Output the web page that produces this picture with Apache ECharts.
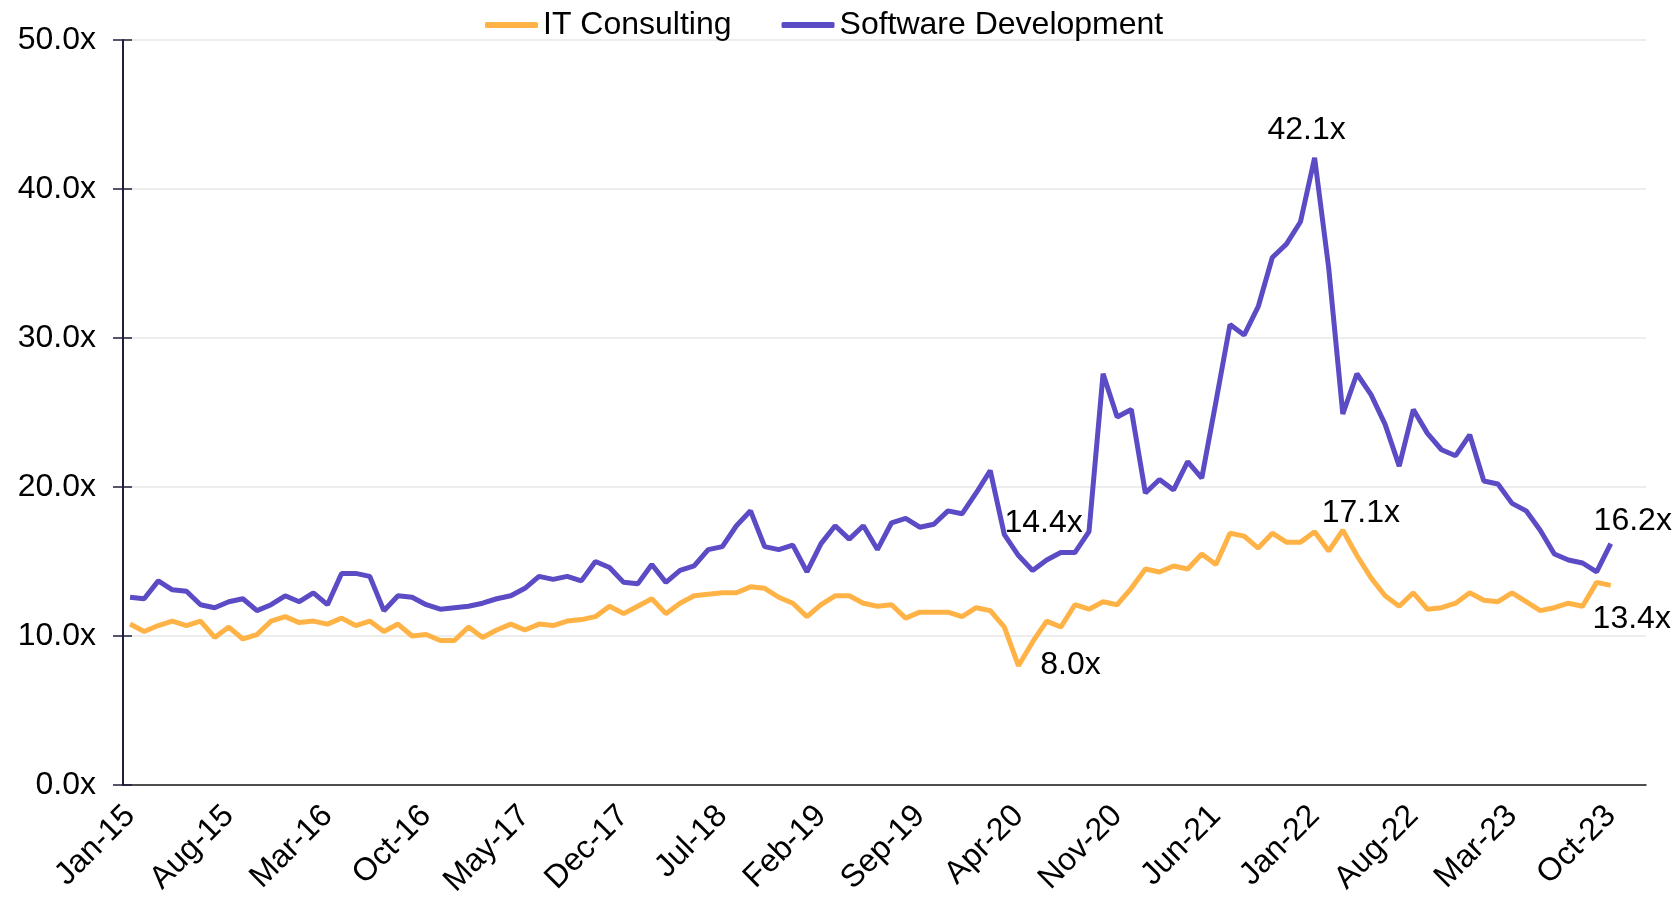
<!DOCTYPE html>
<html>
<head>
<meta charset="utf-8">
<title>IT Consulting vs Software Development multiples</title>
<script src="https://cdn.jsdelivr.net/npm/echarts@6/dist/echarts.min.js"></script>
<style>
html, body { margin: 0; padding: 0; background: #fff; }
#chart { width: 1677px; height: 904px; }
</style>
</head>
<body>
<div id="chart"></div>
<script>
// monthly categories Jan-15 .. Dec-23 (last two months have no data)
const monthNames = ['Jan', 'Feb', 'Mar', 'Apr', 'May', 'Jun', 'Jul', 'Aug', 'Sep', 'Oct', 'Nov', 'Dec']
const years = ['15', '16', '17', '18', '19', '20', '21', '22', '23']
const categories = []
years.forEach(y => monthNames.forEach(m => categories.push(m + '-' + y)))

const seriesNames = ['IT Consulting', 'Software Development']

const itConsulting = [
    10.8, 10.3, 10.7, 11.0, 10.7, 11.0, 9.9, 10.6, 9.8, 10.1, 11.0, 11.3,
    10.9, 11.0, 10.8, 11.2, 10.7, 11.0, 10.3, 10.8, 10.0, 10.1, 9.7, 9.7,
    10.6, 9.9, 10.4, 10.8, 10.4, 10.8, 10.7, 11.0, 11.1, 11.3, 12.0, 11.5,
    12.0, 12.5, 11.5, 12.2, 12.7, 12.8, 12.9, 12.9, 13.3, 13.2, 12.6, 12.2,
    11.3, 12.1, 12.7, 12.7, 12.2, 12.0, 12.1, 11.2, 11.6, 11.6, 11.6, 11.3,
    11.9, 11.7, 10.6, 8.0, 9.6, 11.0, 10.6, 12.1, 11.8, 12.3, 12.1, 13.2,
    14.5, 14.3, 14.7, 14.5, 15.5, 14.8, 16.9, 16.7, 15.9, 16.9, 16.3, 16.3,
    17.0, 15.7, 17.1, 15.4, 13.9, 12.7, 12.0, 12.9, 11.8, 11.9, 12.2, 12.9,
    12.4, 12.3, 12.9, 12.3, 11.7, 11.9, 12.2, 12.0, 13.6, 13.4
]
const softwareDev = [
    12.6, 12.5, 13.7, 13.1, 13.0, 12.1, 11.9, 12.3, 12.5, 11.7, 12.1, 12.7,
    12.3, 12.9, 12.1, 14.2, 14.2, 14.0, 11.7, 12.7, 12.6, 12.1, 11.8, 11.9,
    12.0, 12.2, 12.5, 12.7, 13.2, 14.0, 13.8, 14.0, 13.7, 15.0, 14.6, 13.6,
    13.5, 14.8, 13.6, 14.4, 14.7, 15.8, 16.0, 17.4, 18.4, 16.0, 15.8, 16.1,
    14.3, 16.2, 17.4, 16.5, 17.4, 15.8, 17.6, 17.9, 17.3, 17.5, 18.4, 18.2,
    19.6, 21.1, 16.8, 15.4, 14.4, 15.1, 15.6, 15.6, 17.0, 27.6, 24.7, 25.2,
    19.6, 20.5, 19.8, 21.7, 20.6, 25.7, 30.9, 30.2, 32.1, 35.4, 36.3, 37.8,
    42.1, 34.7, 24.9, 27.6, 26.2, 24.2, 21.4, 25.2, 23.6, 22.5, 22.1, 23.5,
    20.4, 20.2, 18.9, 18.4, 17.1, 15.5, 15.1, 14.9, 14.3, 16.2
]

// which points carry a value label
const itLabelAt = [63, 86, 105]
const swLabelAt = [64, 84, 105]

const yTicks = [0, 10, 20, 30, 40, 50]

// label centre offsets from the point (px)
const itOffsets = { 63: [52, -1], 86: [18, -17], 105: [21, 34] }
const swOffsets = { 64: [11, -47], 84: [-8, -28], 105: [22, -22] }

const FONT = "'Liberation Sans', Arial, sans-serif"
const FS = 32
const ORANGE = '#ffb347'
const PURPLE = '#5b4bc4'

function buildData(values, labelAt, offsets) {
    return values.map((v, i) => {
        if (labelAt.indexOf(i) < 0) return v
        return {
            value: v,
            label: { show: true, position: 'inside', offset: offsets[i] }
        }
    })
}

const tickStyle = { color: '#1a1a1a', width: 1.5 }

const option = {
    animation: false,
    backgroundColor: '#fff',
    textStyle: { fontFamily: FONT },
    grid: { left: 123, right: 31, top: 40, bottom: 119, containLabel: false },
    legend: {
        left: 480,
        top: 4,
        icon: 'roundRect',
        itemWidth: 53,
        itemHeight: 6,
        itemGap: 50,
        textStyle: { fontSize: FS, color: '#000', fontFamily: FONT },
        data: seriesNames
    },
    xAxis: [{
        type: 'category',
        data: categories,
        boundaryGap: true,
        axisLine: { lineStyle: { color: '#1a1a1a', width: 1.5 } },
        axisTick: { interval: 6, length: 9, lineStyle: tickStyle },
        axisLabel: { interval: 6, rotate: 45, margin: 26, fontSize: FS, color: '#000', fontFamily: FONT },
        splitLine: { show: false }
    }, {
        type: 'category',
        data: categories,
        position: 'bottom',
        boundaryGap: true,
        axisLine: { show: false },
        axisTick: { inside: true, interval: 6, length: 9, lineStyle: tickStyle },
        axisLabel: { show: false },
        splitLine: { show: false }
    }],
    yAxis: [{
        type: 'value',
        min: yTicks[0],
        max: yTicks[yTicks.length - 1],
        interval: 10,
        axisLine: { show: true, lineStyle: { color: '#221c3c', width: 2 } },
        axisTick: { show: true, length: 10, lineStyle: { color: '#221c3c', width: 1.5 } },
        axisLabel: { margin: 27, fontSize: FS, color: '#000', fontFamily: FONT, formatter: v => v.toFixed(1) + 'x' },
        splitLine: { lineStyle: { color: '#ededed', width: 2 } }
    }, {
        type: 'value',
        position: 'left',
        min: yTicks[0],
        max: yTicks[yTicks.length - 1],
        interval: 10,
        axisLine: { show: false },
        axisTick: { show: true, inside: true, length: 9, lineStyle: { color: '#221c3c', width: 1.5 } },
        axisLabel: { show: false },
        splitLine: { show: false }
    }],
    series: [{
        name: seriesNames[0],
        type: 'line',
        data: buildData(itConsulting, itLabelAt, itOffsets),
        symbol: 'circle',
        symbolSize: 0,
        showAllSymbol: true,
        lineStyle: { color: ORANGE, width: 5 },
        itemStyle: { color: ORANGE },
        label: { fontSize: FS, color: '#000', fontFamily: FONT, formatter: p => p.value.toFixed(1) + 'x' },
        z: 3
    }, {
        name: seriesNames[1],
        type: 'line',
        data: buildData(softwareDev, swLabelAt, swOffsets),
        symbol: 'circle',
        symbolSize: 0,
        showAllSymbol: true,
        lineStyle: { color: PURPLE, width: 5 },
        itemStyle: { color: PURPLE },
        label: { fontSize: FS, color: '#000', fontFamily: FONT, formatter: p => p.value.toFixed(1) + 'x' },
        z: 4
    }]
}

const myChart = echarts.init(document.getElementById('chart'))
myChart.setOption(option)
</script>
</body>
</html>
